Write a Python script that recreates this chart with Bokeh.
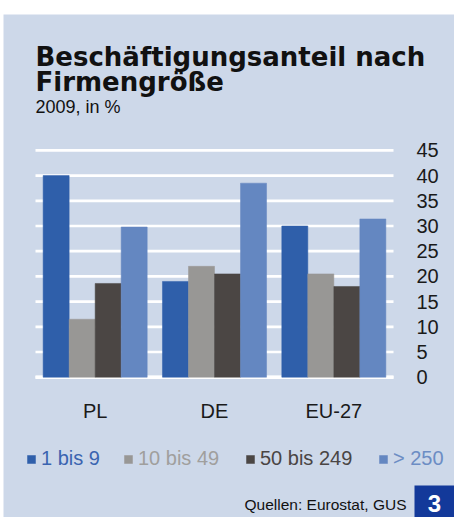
from bokeh.plotting import figure
from bokeh.models import (Range1d, LinearAxis, FixedTicker, Label, Legend, LegendItem,
                          ColumnDataSource, BoxAnnotation)
from bokeh.transform import dodge
from bokeh.embed import file_html
from bokeh.resources import INLINE

countries = ["PL", "DE", "EU-27"]
series = ["1 bis 9", "10 bis 49", "50 bis 249", "> 250"]
v_1_9 = [40.0, 19.0, 30.0]
v_10_49 = [11.5, 22.0, 20.5]
v_50_249 = [18.6, 20.5, 18.0]
v_250 = [29.8, 38.5, 31.4]
y_ticks = [0, 5, 10, 15, 20, 25, 30, 35, 40, 45]

values = [v_1_9, v_10_49, v_50_249, v_250]
bar_colors = ["#2F5FAA", "#989795", "#4B4644", "#6487C1"]
text_colors = ["#3A64B0", "#A09F9D", "#4A4544", "#6C8DC4"]
BG = "#CDD8E9"
FONT = "Liberation Sans"
TXT = "#1a1a1a"

W, H = 454, 517
# pixel geometry of the plot area (image coordinates)
X0PX, X3PX = 35.0, 393.0      # category axis 0..3
Y0PX, PXU = 376.7, 5.04       # y=0 line and px per unit
PXC = (X3PX - X0PX) / 3.0

def dx(px):
    return (px - X0PX) / PXC

def dy(py):
    return (Y0PX - py) / PXU

p = figure(width=W, height=H, output_backend="svg", toolbar_location=None,
           x_range=Range1d(dx(0), dx(W)), y_range=Range1d(dy(H), dy(0)),
           x_axis_location=None, y_axis_location=None,
           min_border=0, min_border_left=0, min_border_right=0,
           min_border_top=0, min_border_bottom=0)
p.background_fill_color = "white"
p.border_fill_color = "white"
p.outline_line_color = None
p.grid.visible = False

# panel background
p.add_layout(BoxAnnotation(left=dx(3), top=dy(14), fill_color=BG, fill_alpha=1,
                           line_color=None, level="underlay"))

# grid lines
p.segment(x0=0, x1=len(countries), y0=y_ticks, y1=y_ticks, line_color="white", line_width=2.7)
p.segment(x0=0, x1=len(countries), y0=y_ticks[0], y1=y_ticks[0], line_color="white", line_width=3.6)

xc = [i + 0.5 for i in range(len(countries))]
src = ColumnDataSource(dict(x=xc, **{f"s{i}": v for i, v in enumerate(values)}))
bw = 0.218
offsets = [-1.5 * bw, -0.5 * bw, 0.5 * bw, 1.5 * bw]
renderers = []
for i in range(4):
    r = p.vbar(x=dodge("x", offsets[i]), top=f"s{i}", width=bw, bottom=0,
               source=src, fill_color=bar_colors[i], line_color=bar_colors[i], line_width=0.5)
    renderers.append(r)

yax = LinearAxis(fixed_location=len(countries), ticker=FixedTicker(ticks=y_ticks))
yax.axis_line_color = None
yax.major_tick_line_color = None
yax.minor_tick_line_color = None
yax.major_tick_out = 0
yax.major_tick_in = 0
yax.major_label_standoff = 23
yax.major_label_text_font = FONT
yax.major_label_text_font_size = "20px"
yax.major_label_text_color = TXT
p.add_layout(yax, "right")

xax = LinearAxis(fixed_location=0, ticker=FixedTicker(ticks=xc),
                 major_label_overrides={c: n for c, n in zip(xc, countries)})
xax.axis_line_color = None
xax.major_tick_line_color = None
xax.minor_tick_line_color = None
xax.major_tick_out = 0
xax.major_tick_in = 0
xax.major_label_standoff = 23
xax.major_label_text_font = FONT
xax.major_label_text_font_size = "20px"
xax.major_label_text_color = TXT
p.add_layout(xax, "below")

leg_x = [26, 123, 245, 378]
for i in range(4):
    lg = Legend(items=[LegendItem(label=series[i], renderers=[renderers[i]])],
                location=(leg_x[i], H - 470), orientation="horizontal",
                padding=0, margin=0, border_line_color=None, background_fill_alpha=0,
                glyph_width=10, glyph_height=10, label_standoff=5,
                label_text_font=FONT, label_text_font_size="20px",
                label_text_color=text_colors[i])
    p.add_layout(lg, "center")

title_font = "DejaVu Sans"
p.add_layout(Label(x=dx(35), y=dy(56.5), text="Beschäftigungsanteil nach",
                   text_font=title_font, text_font_style="bold",
                   text_font_size="26px", text_color="#111111", text_baseline="alphabetic"))
p.add_layout(Label(x=dx(35), y=dy(81.5), text="Firmengröße",
                   text_font=title_font, text_font_style="bold",
                   text_font_size="26px", text_color="#111111", text_baseline="alphabetic"))
p.add_layout(Label(x=dx(35), y=dy(106.5), text="2009, in %", text_font=FONT,
                   text_font_size="18px", text_color="#111111", text_baseline="alphabetic"))
p.add_layout(Label(x=dx(406), y=dy(504), text="Quellen: Eurostat, GUS", text_font=FONT,
                   text_align="right", text_font_size="15.5px", text_color="#111111",
                   text_baseline="alphabetic"))
p.add_layout(BoxAnnotation(left=dx(414), top=dy(485), fill_color="#13399A", fill_alpha=1,
                           line_color=None))
p.add_layout(Label(x=dx(434), y=dy(503), text="3", text_font=FONT, text_font_style="bold",
                   text_align="center", text_baseline="middle", text_font_size="24px",
                   text_color="white"))

open("out.html", "w").write(file_html(p, INLINE))
